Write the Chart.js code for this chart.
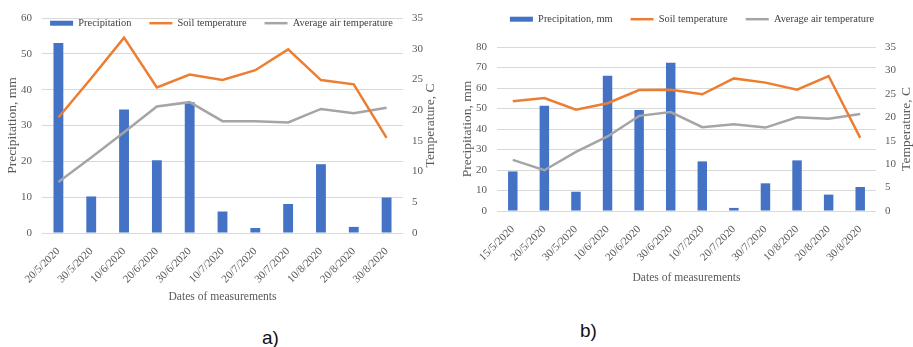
<!DOCTYPE html>
<html>
<head>
<meta charset="utf-8">
<script src="https://cdn.jsdelivr.net/npm/chart.js@4.4.0/dist/chart.umd.min.js"></script>
<style>
  body { margin: 0; background: #fff; width: 913px; height: 347px; position: relative; overflow: hidden; }
  #boxA { position: absolute; left: 0; top: 0; }
  #boxB { position: absolute; left: 455px; top: -4px; }
  .tag { position: absolute; font-family: 'Liberation Sans', Arial, sans-serif; font-size: 19px; color: #111; }
</style>
</head>
<body>
<div id="boxA"><canvas id="chartA" width="455" height="310"></canvas></div>
<div id="boxB"><canvas id="chartB" width="458" height="300"></canvas></div>
<div class="tag" style="left:262px; top:327px;">a)</div>
<div class="tag" style="left:580px; top:320px;">b)</div>
<script>
// chart a)
const datesA = ["20/5/2020", "30/5/2020", "10/6/2020", "20/6/2020", "30/6/2020", "10/7/2020",
  "20/7/2020", "30/7/2020", "10/8/2020", "20/8/2020", "30/8/2020"];
const precipA = [53, 10.2, 34.5, 20.3, 36.5, 6, 1.4, 8.1, 19.2, 1.7, 9.9];
const soilA = [18.8, 25.2, 31.8, 23.7, 25.8, 24.9, 26.5, 29.9, 24.9, 24.2, 15.5];
const airA = [8.3, 12.3, 16.4, 20.6, 21.3, 18.2, 18.2, 18.0, 20.2, 19.5, 20.4];

// chart b)
const datesB = ["15/5/2020", "20/5/2020", "30/5/2020", "10/6/2020", "20/6/2020", "30/6/2020",
  "10/7/2020", "20/7/2020", "30/7/2020", "10/8/2020", "20/8/2020", "30/8/2020"];
const precipB = [19.3, 51.3, 9.4, 66, 49.3, 72.3, 24.2, 1.5, 13.5, 24.7, 8, 11.7];
const soilB = [23.4, 24.1, 21.6, 23.0, 25.8, 25.9, 24.9, 28.3, 27.4, 25.9, 28.8, 15.6];
const airB = [10.9, 8.7, 12.6, 15.9, 20.3, 21.1, 17.9, 18.5, 17.8, 20.0, 19.7, 20.7];

const leftTicksA = { min: 0, max: 60, step: 10 };
const leftTicksB = { min: 0, max: 80, step: 10 };
const rightTicks = { min: 0, max: 35, step: 5 };

const BLUE = "#4472C4";
const ORANGE = "#ED7D31";
const GREY = "#A5A5A5";
const TXT = "#595959";

Chart.defaults.font.family = "'Liberation Serif', 'Times New Roman', serif";
Chart.defaults.color = TXT;

// legend overlaps the top of the plot like in Excel:
// force its box height, and let it draw past its box
const legendHeight = {
  id: "legendHeight",
  beforeLayout(chart, args, opts) {
    const lg = chart.legend;
    if (lg && !lg._fixed) {
      const fit = lg.fit;
      lg.fit = function () {
        fit.call(this);
        this.height = opts.h;
      };
      const draw = lg.draw;
      lg.draw = function () {
        const b = this.bottom;
        this.bottom = b + 30;
        this.ctx.save();
        this.ctx.translate(opts.dx, 0);
        draw.call(this);
        this.ctx.restore();
        this.bottom = b;
      };
      lg._fixed = true;
    }
  },
};

// right axis title reads bottom-to-top
const rightTitle = {
  id: "rightTitle",
  afterDraw(chart, args, opts) {
    const s = chart.scales.y1;
    const ctx = chart.ctx;
    ctx.save();
    ctx.translate(s.left + opts.dx, (s.top + s.bottom) / 2);
    ctx.rotate(-Math.PI / 2);
    ctx.font = "13.5px 'Liberation Serif'";
    ctx.fillStyle = TXT;
    ctx.textAlign = "center";
    ctx.textBaseline = "middle";
    ctx.fillText(opts.text, 0, 0);
    ctx.restore();
  },
};

function buildChart(id, cfg) {
  return new Chart(document.getElementById(id), {
    data: {
      labels: cfg.labels,
      datasets: [
        {
          type: "bar",
          label: cfg.barLabel,
          data: cfg.precip,
          yAxisID: "y",
          backgroundColor: BLUE,
          borderColor: BLUE,
          borderWidth: 0,
          categoryPercentage: 1,
          barPercentage: 0.3,
          order: 1,
        },
        {
          type: "line",
          label: "Soil temperature",
          data: cfg.soil,
          yAxisID: "y1",
          borderColor: ORANGE,
          backgroundColor: ORANGE,
          borderWidth: 2.5,
          pointRadius: 0,
          tension: 0,
          order: 0,
        },
        {
          type: "line",
          label: "Average air temperature",
          data: cfg.air,
          yAxisID: "y1",
          borderColor: GREY,
          backgroundColor: GREY,
          borderWidth: 2.5,
          pointRadius: 0,
          tension: 0,
          order: 0,
        },
      ],
    },
    options: {
      responsive: false,
      animation: false,
      layout: { padding: 0 },
      plugins: {
        tooltip: { enabled: false },
        legendHeight: { h: cfg.legendH, dx: cfg.legendDx },
        rightTitle: { text: "Temperature, C", dx: cfg.rightTitleDx },
        legend: {
          position: "top",
          labels: {
            usePointStyle: true,
            pointStyleWidth: 23,
            padding: 18,
            color: "#404040",
            font: { size: 10.4 },
            sort: (a, b) => a.datasetIndex - b.datasetIndex,
            generateLabels(chart) {
              const items = Chart.defaults.plugins.legend.labels.generateLabels(chart);
              items.forEach((it) => {
                const ds = chart.data.datasets[it.datasetIndex];
                it.pointStyle = "line";
                it.strokeStyle = ds.backgroundColor;
                it.lineCap = "butt";
                it.lineWidth = ds.type === "bar" ? 5 : 2.5;
              });
              return items;
            },
          },
        },
      },
      scales: {
        x: {
          grid: { display: false, drawTicks: false },
          border: { display: false },
          ticks: { minRotation: 45, maxRotation: 45, autoSkip: false, padding: 12, font: { size: 11 } },
          title: {
            display: true,
            text: "Dates of measurements",
            font: { size: 11.6 },
            padding: { top: 0, bottom: cfg.xTitlePad },
          },
          afterFit(s) { s.height = cfg.xHeight; },
        },
        y: {
          position: "left",
          min: cfg.left.min,
          max: cfg.left.max,
          ticks: { stepSize: cfg.left.step, padding: 10, font: { size: 11 } },
          grid: { color: "#D9D9D9", drawTicks: false },
          border: { display: false },
          title: {
            display: true,
            text: "Precipitation, mm",
            font: { size: 13.5 },
            padding: { top: 4, bottom: 0 },
          },
          afterFit(s) { s.width = 42; },
        },
        y1: {
          position: "right",
          min: rightTicks.min,
          max: rightTicks.max,
          ticks: { stepSize: rightTicks.step, padding: 9, font: { size: 11 } },
          grid: { display: false, drawTicks: false },
          border: { display: false },
          afterFit(s) { s.width = cfg.rightW; },
        },
      },
    },
    plugins: [legendHeight, rightTitle],
  });
}

buildChart("chartA", {
  labels: datesA,
  barLabel: "Precipitation",
  precip: precipA,
  soil: soilA,
  air: airA,
  left: leftTicksA,
  legendH: 18,
  legendDx: -6,
  xHeight: 77,
  xTitlePad: 6,
  rightW: 52,
  rightTitleDx: 27,
});

buildChart("chartB", {
  labels: datesB,
  barLabel: "Precipitation, mm",
  precip: precipB,
  soil: soilB,
  air: airB,
  left: leftTicksB,
  legendH: 51,
  legendDx: 8,
  xHeight: 85,
  xTitlePad: 11,
  rightW: 37,
  rightTitleDx: 30,
});
</script>
</body>
</html>
